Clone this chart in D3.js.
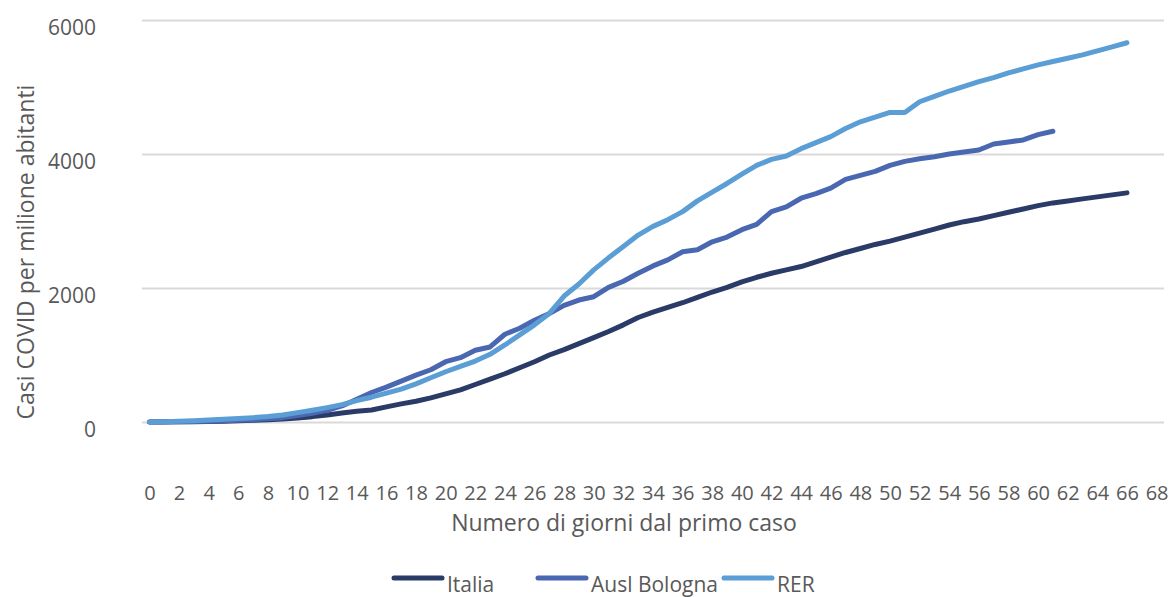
<!DOCTYPE html>
<html>
<head>
<meta charset="utf-8">
<script src="https://cdn.jsdelivr.net/npm/d3@7"></script>
<style>
  body { margin: 0; background: #fff; }
  text { font-family: "Open Sans", sans-serif; fill: #595959; }
</style>
</head>
<body>
<div id="chart-container"></div>
<script>
// Days since first case (category axis 0..68)
const days = d3.range(0, 69);
const xTickLabels = d3.range(0, 69, 2);
const yTicks = [0, 2000, 4000, 6000];

// Cases per million inhabitants
const italia = [0, 1, 3, 5, 8, 12, 17, 25, 33, 45, 60, 80, 105, 135, 160, 180, 225, 270, 310, 360,
  420, 480, 560, 640, 720, 810, 900, 1000, 1080, 1170, 1260, 1350, 1450, 1560, 1640, 1710, 1780, 1860, 1940, 2010,
  2090, 2160, 2220, 2270, 2320, 2390, 2460, 2530, 2590, 2650, 2700, 2760, 2820, 2880, 2940, 2990, 3030, 3080, 3130, 3180,
  3230, 3270, 3300, 3330, 3360, 3390, 3420];
const bologna = [0, 2, 5, 8, 12, 18, 25, 35, 48, 65, 95, 130, 175, 240, 340, 440, 520, 610, 700, 780,
  900, 960, 1070, 1120, 1310, 1400, 1520, 1620, 1740, 1820, 1870, 2010, 2100, 2220, 2330, 2420, 2540, 2570, 2690, 2760,
  2870, 2950, 3140, 3210, 3340, 3410, 3490, 3620, 3680, 3740, 3830, 3890, 3930, 3960, 4000, 4030, 4060, 4150, 4180, 4210,
  4290, 4340];
const rer = [0, 5, 12, 20, 30, 40, 52, 65, 82, 105, 140, 175, 215, 260, 320, 370, 430, 490, 570, 660,
  750, 830, 910, 1010, 1150, 1300, 1450, 1620, 1880, 2060, 2270, 2450, 2620, 2790, 2920, 3020, 3140, 3300, 3430, 3560,
  3700, 3830, 3920, 3970, 4080, 4170, 4260, 4380, 4480, 4550, 4620, 4620, 4780, 4860, 4940, 5010, 5080, 5140, 5210, 5270,
  5330, 5380, 5430, 5480, 5540, 5600, 5660];

const seriesNames = ["Italia", "Ausl Bologna", "RER"];
const seriesValues = [italia, bologna, rer];
const colors = ["#2b3b68", "#4a68b1", "#5b9ed5"];

const width = 1173, height = 597;

const svg = d3.select("#chart-container")
    .append("svg")
    .attr("width", width)
    .attr("height", height);

const x = d3.scaleLinear().domain([-0.5, 68.5]).range([142, 1164]);
const y = d3.scaleLinear().domain([0, 6000]).range([422, 20]);

// Gridlines + y labels
const yAxis = svg.append("g")
    .attr("transform", "translate(142,0)")
    .call(d3.axisLeft(y).tickValues(yTicks).tickFormat(d3.format("d"))
        .tickSize(-(1164 - 142)).tickPadding(46));
yAxis.select(".domain").remove();
yAxis.selectAll(".tick line").attr("stroke", "#d9d9d9").attr("stroke-width", 2);
yAxis.selectAll(".tick text")
    .attr("font-size", 21)
    .attr("dy", "0.68em")
    .style("font-family", "'Open Sans', sans-serif")
    .attr("fill", "#595959");

// x labels
const xAxis = svg.append("g")
    .attr("transform", "translate(0,486)")
    .call(d3.axisBottom(x).tickValues(xTickLabels).tickSize(0).tickPadding(0));
xAxis.select(".domain").remove();
xAxis.selectAll(".tick text")
    .attr("font-size", 20)
    .attr("dy", "0.72em")
    .style("font-family", "'Open Sans', sans-serif")
    .attr("fill", "#595959");

// Lines
const line = d3.line()
    .x((d, i) => x(days[i]))
    .y(d => y(d));

svg.selectAll(".series")
    .data(seriesValues)
    .enter().append("path")
    .attr("class", "series")
    .attr("fill", "none")
    .attr("stroke", (d, i) => colors[i])
    .attr("stroke-width", 5)
    .attr("stroke-linejoin", "round")
    .attr("stroke-linecap", "round")
    .attr("d", line);

// Axis titles
svg.append("text")
    .attr("transform", "translate(34,252) rotate(-90)")
    .attr("text-anchor", "middle")
    .attr("font-size", 23)
    .text("Casi COVID per milione abitanti");

svg.append("text")
    .attr("x", 624)
    .attr("y", 531)
    .attr("text-anchor", "middle")
    .attr("font-size", 23)
    .text("Numero di giorni dal primo caso");

// Legend
const legendX = [392, 536, 722];
const legend = svg.selectAll(".legend")
    .data(seriesNames)
    .enter().append("g")
    .attr("class", "legend")
    .attr("transform", (d, i) => `translate(${legendX[i]},578)`);

legend.append("line")
    .attr("x1", 2).attr("x2", 50)
    .attr("stroke", (d, i) => colors[i])
    .attr("stroke-width", 5)
    .attr("stroke-linecap", "round");

legend.append("text")
    .attr("x", 55)
    .attr("y", 14)
    .attr("font-size", 21)
    .text(d => d);
</script>
</body>
</html>
